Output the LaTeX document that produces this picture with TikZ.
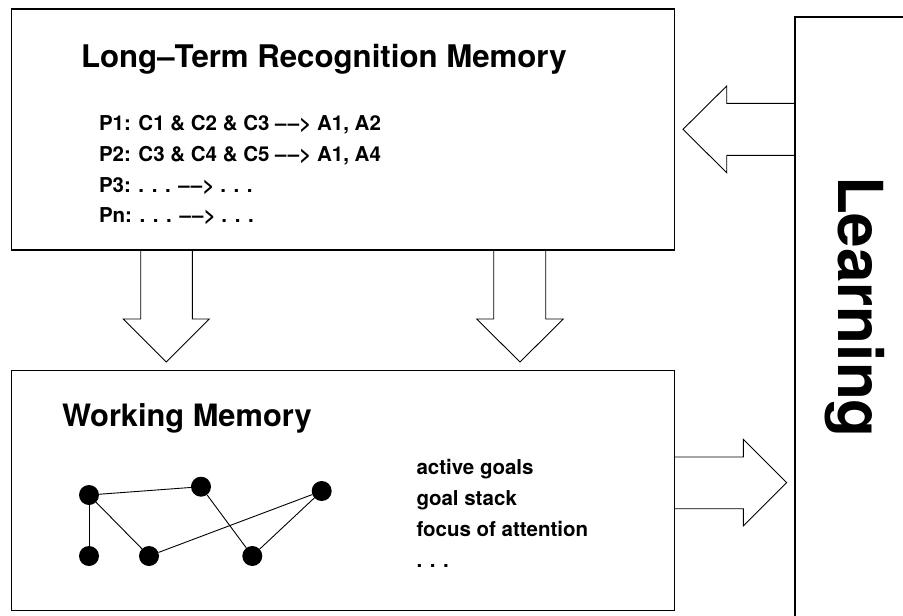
\documentclass[tikz,border=0pt]{standalone}
\usepackage{fontspec}
\setmainfont{TeX Gyre Heros}
\newcommand{\ddarrow}{\textendash\kern1.2pt\textendash\kern0.3pt>}
\begin{document}
\begin{tikzpicture}[x=1pt,y=-1pt,
  box/.style={draw=black,line width=1.4pt,fill=white,inner sep=0pt,outer sep=0pt,anchor=north west},
  barrow/.style={draw=black,line width=0.9pt,line join=miter},
  txt/.style={inner sep=0pt,outer sep=0pt,anchor=base west,font=\bfseries\fontsize{20.5}{24}\selectfont},
  dot/.style={circle,fill=black,inner sep=0pt,minimum size=20pt},
  edge/.style={draw=black,line width=0.9pt}]
\useasboundingbox (0,0) rectangle (903,616);
\clip (0,0) rectangle (903,616);
\fill[white] (0,0) rectangle (903,616);
% boxes
\node[box,minimum width=663pt,minimum height=241pt] (ltm) at (11.5,9) {};
\node[box,minimum width=663pt,minimum height=240pt] (wm) at (11.5,370.5) {};
\node[box,minimum width=160pt,minimum height=650pt] (learn) at (795,17) {};
% titles
\node[txt,font=\bfseries\fontsize{31.2}{36}\selectfont] (ltmtitle) at (81,67) {Long\textendash Term Recognition Memory};
\node[txt,font=\bfseries\fontsize{30.8}{36}\selectfont] (wmtitle) at (62,426.5) {Working Memory};
\node[txt,font=\bfseries\fontsize{62}{72}\selectfont,rotate=-90] (learntitle) at (838,176) {Learning};
% productions
\node[txt] (p1) at (99,130) {P1: C1 \& C2 \& C3 \ddarrow{} A1, A2};
\node[txt] (p2) at (99,161) {P2: C3 \& C4 \& C5 \ddarrow{} A1, A4};
\node[txt] (p3) at (99,192) {P3: . . . \ddarrow{} . . .};
\node[txt] (pn) at (99,222) {Pn: . . . \ddarrow{} . . .};
% working memory list
\node[txt] (g1t) at (416.5,474.5) {active goals};
\node[txt] (g2t) at (416.5,505.5) {goal stack};
\node[txt] (g3t) at (416.5,536.5) {focus of attention};
\node[txt] (g4t) at (416.5,567.5) {. . .};
% graph
\node[dot] (a) at (89,495) {};
\node[dot] (b) at (201,486.7) {};
\node[dot] (c) at (321.7,491) {};
\node[dot] (d) at (89,556) {};
\node[dot] (e) at (149,556) {};
\node[dot] (f) at (252.3,556) {};
\draw[edge] (a) -- (b);
\draw[edge] (a) -- (d);
\draw[edge] (a) -- (e);
\draw[edge] (b) -- (f);
\draw[edge] (e) -- (c);
\draw[edge] (c) -- (f);
% block arrows
\coordinate (t1) at (166.3,362);
\coordinate (t2) at (520,362);
\coordinate (t3) at (683,129.3);
\coordinate (t4) at (786.7,482.6);
\draw[barrow] (ltm.south -| 140.7,0) -- (140.7,319) -- (123.3,319) -- (t1) -- (209.3,319) -- (192.3,319) -- (ltm.south -| 192.3,0);
\draw[barrow] (ltm.south -| 493.7,0) -- (493.7,319) -- (476.7,319) -- (t2) -- (563.3,319) -- (545.7,319) -- (ltm.south -| 545.7,0);
\draw[barrow] (learn.west |- 0,103.3) -- (726.7,103.3) -- (726.7,86) -- (t3) -- (726.7,172.7) -- (726.7,155.3) -- (learn.west |- 0,155.3);
\draw[barrow] (wm.east |- 0,457) -- (743.3,457) -- (743.3,439.3) -- (t4) -- (743.3,526) -- (743.3,508.7) -- (wm.east |- 0,508.7);
\end{tikzpicture}
\end{document}
